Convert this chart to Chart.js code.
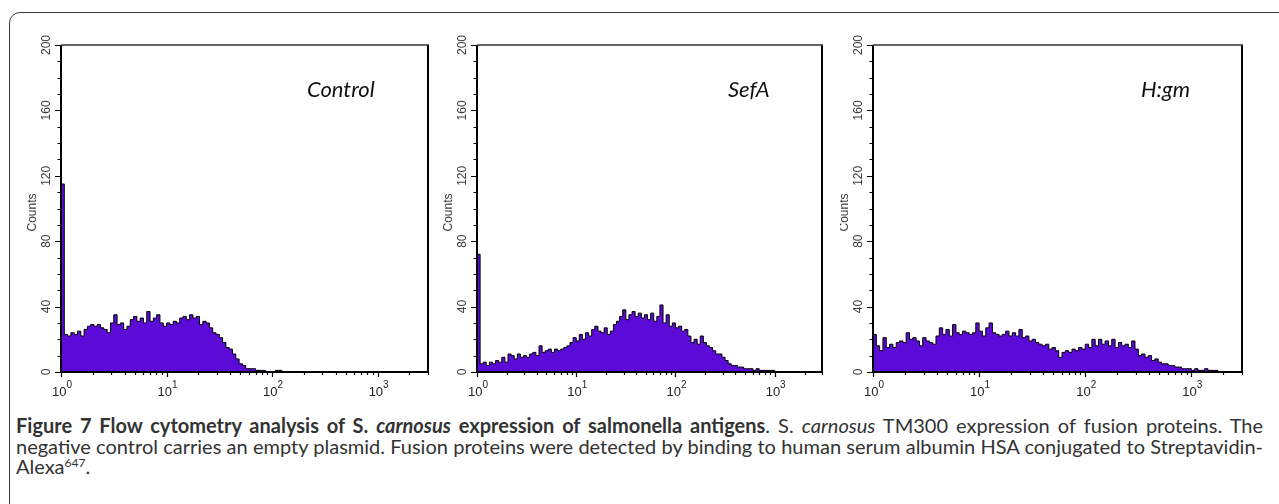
<!DOCTYPE html>
<html><head><meta charset="utf-8">
<script src="https://cdn.jsdelivr.net/npm/chart.js@4.4.1/dist/chart.umd.min.js"></script>
<style>
html,body{margin:0;padding:0;background:#fff;}
body{width:1279px;height:504px;position:relative;overflow:hidden;font-family:Lato,"Open Sans",sans-serif;}
#frame{position:absolute;left:9px;top:12px;width:1300px;height:520px;border:1.5px solid #3a3a3a;border-top-left-radius:11px;box-sizing:border-box;}
canvas{position:absolute;top:0;}
.ptitle{position:absolute;font-family:Lato,sans-serif;font-style:italic;font-size:22px;color:#111;line-height:1;white-space:nowrap;}
#caption{position:absolute;left:16px;top:415px;width:1247px;font-size:20px;line-height:20.5px;color:#333;}
.ln{white-space:nowrap;}
.ln span{white-space:nowrap;}
sup{font-size:12px;line-height:0;vertical-align:7px;}
</style></head><body>
<div id="frame"></div>
<canvas id="c0" width="440" height="400" style="left:0px"></canvas>
<canvas id="c1" width="400" height="400" style="left:440px"></canvas>
<canvas id="c2" width="439" height="400" style="left:840px"></canvas>
<div class="ptitle" id="t0" style="left:307px;top:78px"></div>
<div class="ptitle" id="t1" style="left:728px;top:78px"></div>
<div class="ptitle" id="t2" style="left:1141px;top:78px"></div>
<div id="caption">
<div class="ln"><span class="fit"><b>Figure 7 Flow cytometry analysis of S. <i>carnosus</i> expression of salmonella antigens</b>. S. <i>carnosus</i> TM300 expression of fusion proteins. The</span></div>
<div class="ln"><span class="fit">negative control carries an empty plasmid. Fusion proteins were detected by binding to human serum albumin HSA conjugated to Streptavidin-</span></div>
<div class="ln"><span>Alexa<sup>647</sup>.</span></div>
</div>
<script>
// ---- data ----
const panelTitles = ['Control', 'SefA', 'H:gm'];
const channelsPerDecade = 32;           // histogram channel i sits at 10^(i/32)
const xMin = 1, xMax = 3000;
const xDecades = [0, 1, 2, 3];          // tick labels 10^0 ... 10^3
const yMin = 0, yMax = 200, yMinorStep = 10;
const yTickValues = [0, 40, 80, 120, 160, 200];
const yTitle = 'Counts';

const controlCounts = [
 115,23,22,24,23,25,22,26,28,29,28,29,27,26,24,30,35,29,30,26,28,32,34,31,33,30,37,31,33,35,30,28,
 30,29,31,30,33,34,32,35,33,34,29,31,30,27,24,23,21,18,15,14,11,8,5,4,2,2,2,1,1,1,0,0,
 0,1,1,0,0,0,0,0,0,0,0,0,0,0,0,0,0,0,0,0,0,0,0,0,0,0,0,0,0,0,0,0,
 0,0,0,0,0,0,0,0,0,0,0,0,0,0,0,0
];
const sefACounts = [
 72,5,6,4,6,5,7,6,9,6,11,10,8,11,9,10,9,11,12,10,16,12,13,14,12,14,13,14,15,16,18,21,
 19,23,20,24,22,26,28,25,24,27,23,25,29,31,34,38,32,35,37,34,36,33,35,32,36,31,34,41,30,35,28,30,
 27,28,25,26,22,18,20,17,22,18,16,15,13,11,11,9,7,5,4,4,3,3,2,2,2,1,2,1,1,1,1,1,
 0,0,0,0,0,0,0,0,0,0,0,0,0,0,0,0
];
const hgmCounts = [
 23,16,13,21,15,17,15,18,19,18,24,20,21,19,16,21,19,18,17,22,27,23,26,22,29,24,23,25,24,23,24,30,
 25,22,27,30,24,23,22,23,25,22,24,22,26,21,22,19,20,18,17,16,17,14,15,13,9,12,13,12,14,13,15,14,
 17,15,20,16,20,17,19,16,20,15,18,16,17,15,19,14,10,11,9,10,7,8,6,5,5,4,4,3,3,2,2,2,
 1,2,1,1,2,1,1,1,0,0,0,0,0,0,0,0
];
const panelCounts = [controlCounts, sefACounts, hgmCounts];

// ---- layout (pixels) ----
const panelPads = [
  {left:61, right:12, top:45, bottom:28},
  {left:37, right:18, top:45, bottom:28},
  {left:33, right:37, top:45, bottom:28}
];
const fillColor = 'rgb(92,10,216)';

// justify caption lines to the caption width
document.querySelectorAll('#caption .fit').forEach(sp => {
  const target = 1247;
  let w = sp.getBoundingClientRect().width;
  if (w > target) {
    const fs = parseFloat(getComputedStyle(sp).fontSize) * target / w * 0.99;
    sp.style.fontSize = fs + 'px';
    w = sp.getBoundingClientRect().width;
  }
  const spaces = (sp.textContent.match(/ /g) || []).length;
  if (spaces > 0) sp.style.wordSpacing = ((target - w) / spaces) + 'px';
});

const axesPlugin = {
  id: 'facsAxes',
  afterDatasetsDraw(chart) {
    const ctx = chart.ctx, a = chart.chartArea;
    const xs = chart.scales.x, ys = chart.scales.y;
    ctx.save();
    // frame
    ctx.strokeStyle = '#000';
    ctx.lineWidth = 2;
    ctx.beginPath();
    ctx.moveTo(a.left, a.top); ctx.lineTo(a.left, a.bottom + 1);
    ctx.moveTo(a.left - 1, a.bottom); ctx.lineTo(a.right + 1, a.bottom);
    ctx.moveTo(a.right, a.bottom + 1); ctx.lineTo(a.right, a.top);
    ctx.stroke();
    ctx.lineWidth = 1.5;
    ctx.strokeStyle = '#333';
    ctx.beginPath();
    ctx.moveTo(a.left, a.top); ctx.lineTo(a.right + 1, a.top);
    ctx.stroke();
    // y ticks
    ctx.strokeStyle = '#000';
    ctx.lineWidth = 1.2;
    ctx.beginPath();
    for (let v = yMin; v <= yMax; v += yMinorStep) {
      const py = Math.round(ys.getPixelForValue(v)) + 0.5;
      const len = yTickValues.includes(v) ? 6 : 3.5;
      ctx.moveTo(a.left - len, py); ctx.lineTo(a.left, py);
    }
    ctx.stroke();
    // x ticks
    ctx.beginPath();
    for (const d of xDecades) {
      for (let k = 1; k <= 9; k++) {
        const v = k * Math.pow(10, d);
        if (v > xMax) continue;
        const px = Math.round(xs.getPixelForValue(v)) + 0.5;
        const len = k === 1 ? 5 : 3;
        ctx.moveTo(px, a.bottom); ctx.lineTo(px, a.bottom + len);
      }
    }
    ctx.stroke();
    // y labels (rotated)
    ctx.fillStyle = '#3a3a3a';
    ctx.font = '12px "Liberation Sans", Arial, sans-serif';
    ctx.textAlign = 'center';
    ctx.textBaseline = 'middle';
    for (const v of yTickValues) {
      const py = ys.getPixelForValue(v);
      ctx.save();
      ctx.translate(a.left - 14, py);
      ctx.rotate(-Math.PI / 2);
      ctx.fillText(String(v), 0, 0);
      ctx.restore();
    }
    ctx.save();
    ctx.translate(a.left - 28, (a.top + a.bottom) / 2 + 4);
    ctx.rotate(-Math.PI / 2);
    ctx.fillText(yTitle, 0, 0);
    ctx.restore();
    // x labels 10^d
    ctx.fillStyle = '#222';
    ctx.textBaseline = 'alphabetic';
    ctx.textAlign = 'left';
    for (const d of xDecades) {
      const px = xs.getPixelForValue(Math.pow(10, d));
      ctx.font = '13px "Liberation Sans", Arial, sans-serif';
      const w1 = ctx.measureText('10').width;
      ctx.font = '10px "Liberation Sans", Arial, sans-serif';
      const w2 = ctx.measureText(String(d)).width;
      const x0 = px - (w1 + w2) / 2 + 1;
      ctx.font = '13px "Liberation Sans", Arial, sans-serif';
      ctx.fillText('10', x0, a.bottom + 24);
      ctx.font = '10px "Liberation Sans", Arial, sans-serif';
      ctx.fillText(String(d), x0 + w1, a.bottom + 16);
    }
    ctx.restore();
  }
};

panelCounts.forEach((counts, p) => {
  document.getElementById('t' + p).textContent = panelTitles[p];
  const pts = counts.map((c, i) => ({x: Math.pow(10, i / channelsPerDecade), y: c}));
  new Chart(document.getElementById('c' + p), {
    type: 'line',
    data: {datasets: [{
      data: pts, stepped: true, fill: 'origin',
      backgroundColor: fillColor, borderColor: '#000', borderWidth: 1,
      pointRadius: 0, tension: 0
    }]},
    options: {
      responsive: false, animation: false, devicePixelRatio: 1, events: [],
      layout: {padding: panelPads[p]},
      plugins: {legend: {display: false}, tooltip: {enabled: false}},
      scales: {
        x: {type: 'logarithmic', min: xMin, max: xMax, display: false},
        y: {type: 'linear', min: yMin, max: yMax, display: false}
      }
    },
    plugins: [axesPlugin]
  });
});
</script>
</body></html>
